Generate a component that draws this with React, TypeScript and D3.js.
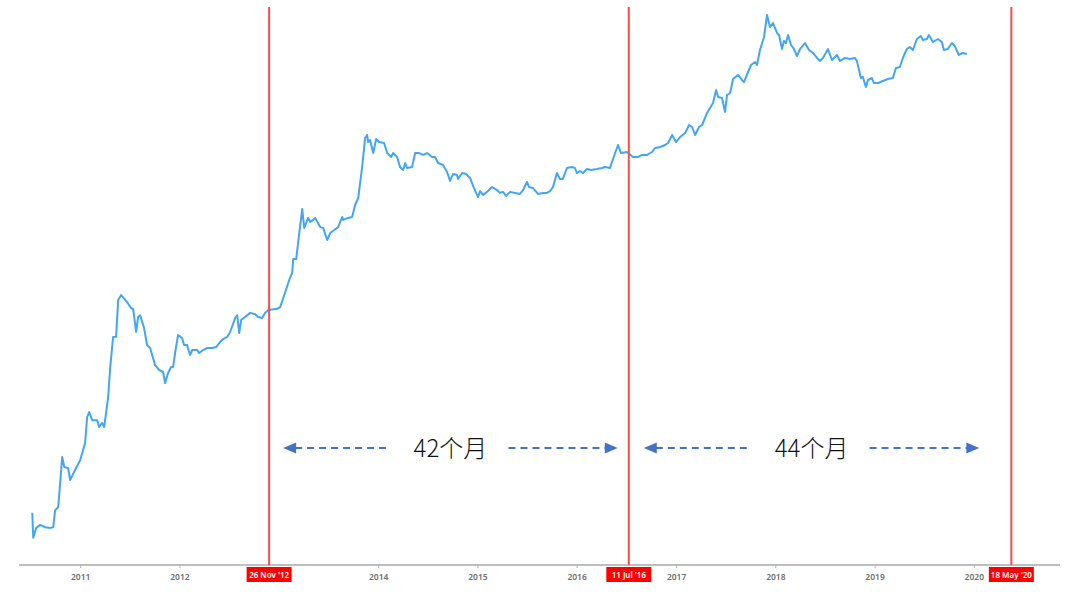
import React, { useEffect, useRef } from 'react';
import * as d3 from 'd3';

// weekly price: [decimal year, USD]
const btcWeekly: [number, number][] = [
  [2010.517, 0.094], [2010.527, 0.051], [2010.557, 0.065], [2010.597, 0.07], [2010.648, 0.066],
  [2010.698, 0.065], [2010.728, 0.066], [2010.748, 0.1], [2010.779, 0.108], [2010.819, 0.37],
  [2010.839, 0.29], [2010.879, 0.28], [2010.899, 0.21], [2010.95, 0.27], [2011.0, 0.34],
  [2011.05, 0.52], [2011.07, 0.98], [2011.091, 1.11], [2011.121, 0.91], [2011.171, 0.91],
  [2011.191, 0.77], [2011.221, 0.85], [2011.242, 0.77], [2011.282, 1.6], [2011.302, 3.26],
  [2011.332, 6.98], [2011.362, 7.0], [2011.383, 17.3], [2011.413, 19.5], [2011.473, 16.4],
  [2011.513, 14.2], [2011.534, 13.9], [2011.564, 7.89], [2011.584, 11.4], [2011.604, 11.9],
  [2011.644, 8.7], [2011.674, 5.74], [2011.705, 5.33], [2011.755, 3.51], [2011.795, 3.11],
  [2011.836, 2.96], [2011.856, 2.26], [2011.886, 2.89], [2011.916, 3.35], [2011.936, 3.35],
  [2011.966, 5.46], [2011.987, 7.33], [2012.027, 6.81], [2012.047, 5.74], [2012.077, 5.74],
  [2012.107, 4.49], [2012.128, 5.07], [2012.178, 5.07], [2012.198, 4.71], [2012.238, 5.07],
  [2012.279, 5.33], [2012.329, 5.33], [2012.369, 5.46], [2012.409, 6.17], [2012.44, 6.64],
  [2012.48, 6.98], [2012.51, 7.89], [2012.56, 11.1], [2012.581, 11.9], [2012.601, 7.69],
  [2012.621, 10.6], [2012.661, 11.4], [2012.711, 12.6], [2012.762, 12.2], [2012.792, 11.4],
  [2012.832, 11.1], [2012.862, 12.6], [2012.893, 13.5], [2012.983, 13.9], [2013.013, 14.5],
  [2013.064, 21.0], [2013.104, 28.2], [2013.134, 33.5], [2013.144, 47.1], [2013.174, 47.1],
  [2013.205, 89.1], [2013.235, 160], [2013.255, 101], [2013.295, 129], [2013.315, 117],
  [2013.346, 123], [2013.366, 129], [2013.416, 103], [2013.446, 101], [2013.487, 75.1],
  [2013.517, 89.1], [2013.557, 95.9], [2013.597, 103], [2013.638, 132], [2013.648, 123],
  [2013.698, 129], [2013.738, 132], [2013.768, 177], [2013.799, 210], [2013.839, 449],
  [2013.869, 914], [2013.889, 984], [2013.899, 828], [2013.919, 869], [2013.95, 632],
  [2013.98, 891], [2014.01, 828], [2014.06, 808], [2014.091, 632], [2014.131, 574],
  [2014.151, 632], [2014.191, 574], [2014.221, 449], [2014.252, 417], [2014.272, 495],
  [2014.292, 438], [2014.342, 449], [2014.373, 632], [2014.413, 632], [2014.453, 603],
  [2014.493, 632], [2014.544, 574], [2014.574, 574], [2014.604, 495], [2014.654, 471],
  [2014.695, 397], [2014.725, 319], [2014.755, 378], [2014.795, 369], [2014.805, 335],
  [2014.846, 387], [2014.886, 378], [2014.926, 343], [2014.966, 268], [2015.007, 215],
  [2015.027, 249], [2015.057, 227], [2015.097, 244], [2015.148, 275], [2015.198, 255],
  [2015.228, 238], [2015.258, 244], [2015.289, 221], [2015.329, 244], [2015.379, 238],
  [2015.429, 232], [2015.46, 255], [2015.5, 311], [2015.52, 275], [2015.56, 268],
  [2015.611, 232], [2015.661, 238], [2015.701, 238], [2015.731, 249], [2015.762, 275],
  [2015.802, 387], [2015.832, 335], [2015.862, 335], [2015.903, 438], [2015.953, 449],
  [2015.983, 438], [2016.003, 387], [2016.034, 407], [2016.064, 387], [2016.104, 427],
  [2016.144, 417], [2016.205, 427], [2016.255, 438], [2016.285, 449], [2016.335, 438],
  [2016.366, 546], [2016.416, 769], [2016.446, 632], [2016.507, 648], [2016.567, 574],
  [2016.618, 574], [2016.658, 603], [2016.708, 603], [2016.758, 648], [2016.789, 715],
  [2016.839, 732], [2016.889, 769], [2016.919, 808], [2016.96, 984], [2017.0, 828],
  [2017.04, 936], [2017.091, 1032], [2017.131, 1256], [2017.161, 1196], [2017.191, 984],
  [2017.231, 1196], [2017.262, 1256], [2017.312, 1686], [2017.372, 2153], [2017.403, 2958],
  [2017.423, 2494], [2017.463, 2434], [2017.493, 1727], [2017.513, 2618], [2017.544, 2750],
  [2017.574, 3875], [2017.624, 4276], [2017.664, 3783], [2017.684, 3600], [2017.725, 4600],
  [2017.755, 5460], [2017.795, 5876], [2017.815, 5460], [2017.845, 7882], [2017.886, 10840],
  [2017.916, 18580], [2017.946, 13840], [2017.976, 15270], [2018.017, 11960], [2018.037, 11380],
  [2018.067, 8075], [2018.087, 9835], [2018.107, 9355], [2018.128, 11380], [2018.158, 8910],
  [2018.188, 8075], [2018.218, 6808], [2018.248, 8075], [2018.299, 9355], [2018.339, 7882],
  [2018.379, 7328], [2018.42, 6486], [2018.45, 6025], [2018.48, 6486], [2018.53, 8075],
  [2018.57, 6170], [2018.621, 6980], [2018.651, 6025], [2018.701, 6486], [2018.751, 6326],
  [2018.802, 6486], [2018.822, 6025], [2018.862, 3971], [2018.882, 4074], [2018.913, 3185],
  [2018.933, 3783], [2018.973, 3971], [2018.993, 3514], [2019.034, 3514], [2019.084, 3690],
  [2019.134, 3875], [2019.184, 3971], [2019.215, 5072], [2019.255, 5197], [2019.285, 6486],
  [2019.325, 8075], [2019.356, 8483], [2019.386, 7882], [2019.426, 10320], [2019.466, 11110],
  [2019.487, 10080], [2019.527, 10320], [2019.547, 11380], [2019.587, 9590], [2019.638, 10320],
  [2019.678, 9590], [2019.698, 7882], [2019.738, 8075], [2019.779, 9355], [2019.809, 8690],
  [2019.849, 6980], [2019.889, 7328], [2019.93, 7150],
];

// 2013 sits under the first halving label, so it is not shown
const yearTicks = [2011, 2012, 2014, 2015, 2016, 2017, 2018, 2019, 2020];
const halvingDates = ['2012-11-26', '2016-07-11', '2020-05-18'];
const halvingLabels = ["26 Nov '12", "11 Jul '16", "18 May '20"];
const cycleLabels = ['42个月', '44个月'];
// arrow insets from the halving lines, in px
const cycleInsets = [
  { left: 14, right: 11 },
  { left: 15, right: 32 },
];

const W = 1080;
const H = 597;

const toDate = (yr: number) => {
  const y = Math.floor(yr);
  const a = new Date(y, 0, 1).getTime();
  const b = new Date(y + 1, 0, 1).getTime();
  return new Date(a + (yr - y) * (b - a));
};
const parseDay = d3.timeParse('%Y-%m-%d');

const App: React.FC = () => {
  const ref = useRef<SVGSVGElement>(null);

  useEffect(() => {
    document.body.style.margin = '0';
    const svg = d3.select(ref.current);
    svg.selectAll('*').remove();

    const x = d3.scaleTime()
      .domain([new Date(2010, 4, 21), new Date(2020, 10, 13)])
      .range([19, 1060]);
    const y = d3.scaleLog()
      .domain([1, 10000])
      .range([416.3, 40.3]);
    const axisY = 565;

    // axis
    svg.append('g')
      .attr('transform', `translate(0,${axisY})`)
      .call(
        d3.axisBottom(x)
          .tickValues(yearTicks.map(t => new Date(t, 0, 1)))
          .tickFormat(d => d3.timeFormat('%Y')(d as Date))
          .tickSize(3)
          .tickPadding(6)
      )
      .call(g => g.select('.domain').attr('stroke', '#7f7f7f').attr('stroke-width', 1.2).attr('d', `M19,0H1060`))
      .call(g => g.selectAll('.tick line').attr('stroke', '#b0b0b0'))
      .call(g => g.selectAll('.tick text')
        .attr('fill', '#6e6e6e')
        .style('font-family', '"Noto Sans", sans-serif')
        .style('font-size', '8.5px')
        .style('font-weight', '600'));

    // price line
    const line = d3.line<[number, number]>()
      .x(d => x(toDate(d[0])))
      .y(d => y(d[1]));
    svg.append('path')
      .datum(btcWeekly)
      .attr('d', line)
      .attr('fill', 'none')
      .attr('stroke', '#42a5f5')
      .attr('stroke-width', 2)
      .attr('stroke-linejoin', 'round');

    // halving lines + labels
    const hx = halvingDates.map(d => x(parseDay(d)!));
    const hg = svg.append('g');
    hg.selectAll('line')
      .data(hx)
      .join('line')
      .attr('x1', d => d).attr('x2', d => d)
      .attr('y1', 7).attr('y2', axisY)
      .attr('stroke', '#ff4a4a')
      .attr('stroke-width', 2);
    const lab = hg.selectAll('g.lab')
      .data(hx)
      .join('g')
      .attr('class', 'lab')
      .attr('transform', d => `translate(${d},${axisY + 2})`);
    lab.append('rect')
      .attr('x', -22.5).attr('y', 0)
      .attr('width', 45).attr('height', 15)
      .attr('fill', '#ff0000');
    lab.append('text')
      .attr('x', 0).attr('y', 10.5)
      .attr('text-anchor', 'middle')
      .attr('fill', '#fff')
      .style('font-family', '"Noto Sans", sans-serif')
      .style('font-size', '8px')
      .style('font-weight', '600')
      .text((_, i) => halvingLabels[i]);

    // cycle arrows
    const blue = '#4472c4';
    const ay = 448;
    cycleLabels.forEach((label, i) => {
      const x0 = hx[i] + cycleInsets[i].left;
      const x1 = hx[i + 1] - cycleInsets[i].right;
      const cx = (x0 + x1) / 2;
      const g = svg.append('g');
      const seg = [[x0 + 12, cx - 61], [cx + 58, x1 - 12]];
      seg.forEach(([a, b]) => {
        g.append('line')
          .attr('x1', a).attr('x2', b)
          .attr('y1', ay).attr('y2', ay)
          .attr('stroke', blue)
          .attr('stroke-width', 2.2)
          .attr('stroke-dasharray', '7,5');
      });
      g.append('path')
        .attr('d', `M${x0},${ay}L${x0 + 13},${ay - 5.5}L${x0 + 13},${ay + 5.5}Z`)
        .attr('fill', blue);
      g.append('path')
        .attr('d', `M${x1},${ay}L${x1 - 13},${ay - 5.5}L${x1 - 13},${ay + 5.5}Z`)
        .attr('fill', blue);
      g.append('text')
        .attr('x', cx).attr('y', ay + 9)
        .attr('text-anchor', 'middle')
        .attr('fill', '#111')
        .style('font-family', '"Noto Sans CJK SC", sans-serif')
        .style('font-size', '24px')
        .style('font-weight', '300')
        .text(label);
    });
  }, []);

  return <svg ref={ref} width={W} height={H} style={{ display: 'block', background: '#fff' }} />;
};

export default App;
